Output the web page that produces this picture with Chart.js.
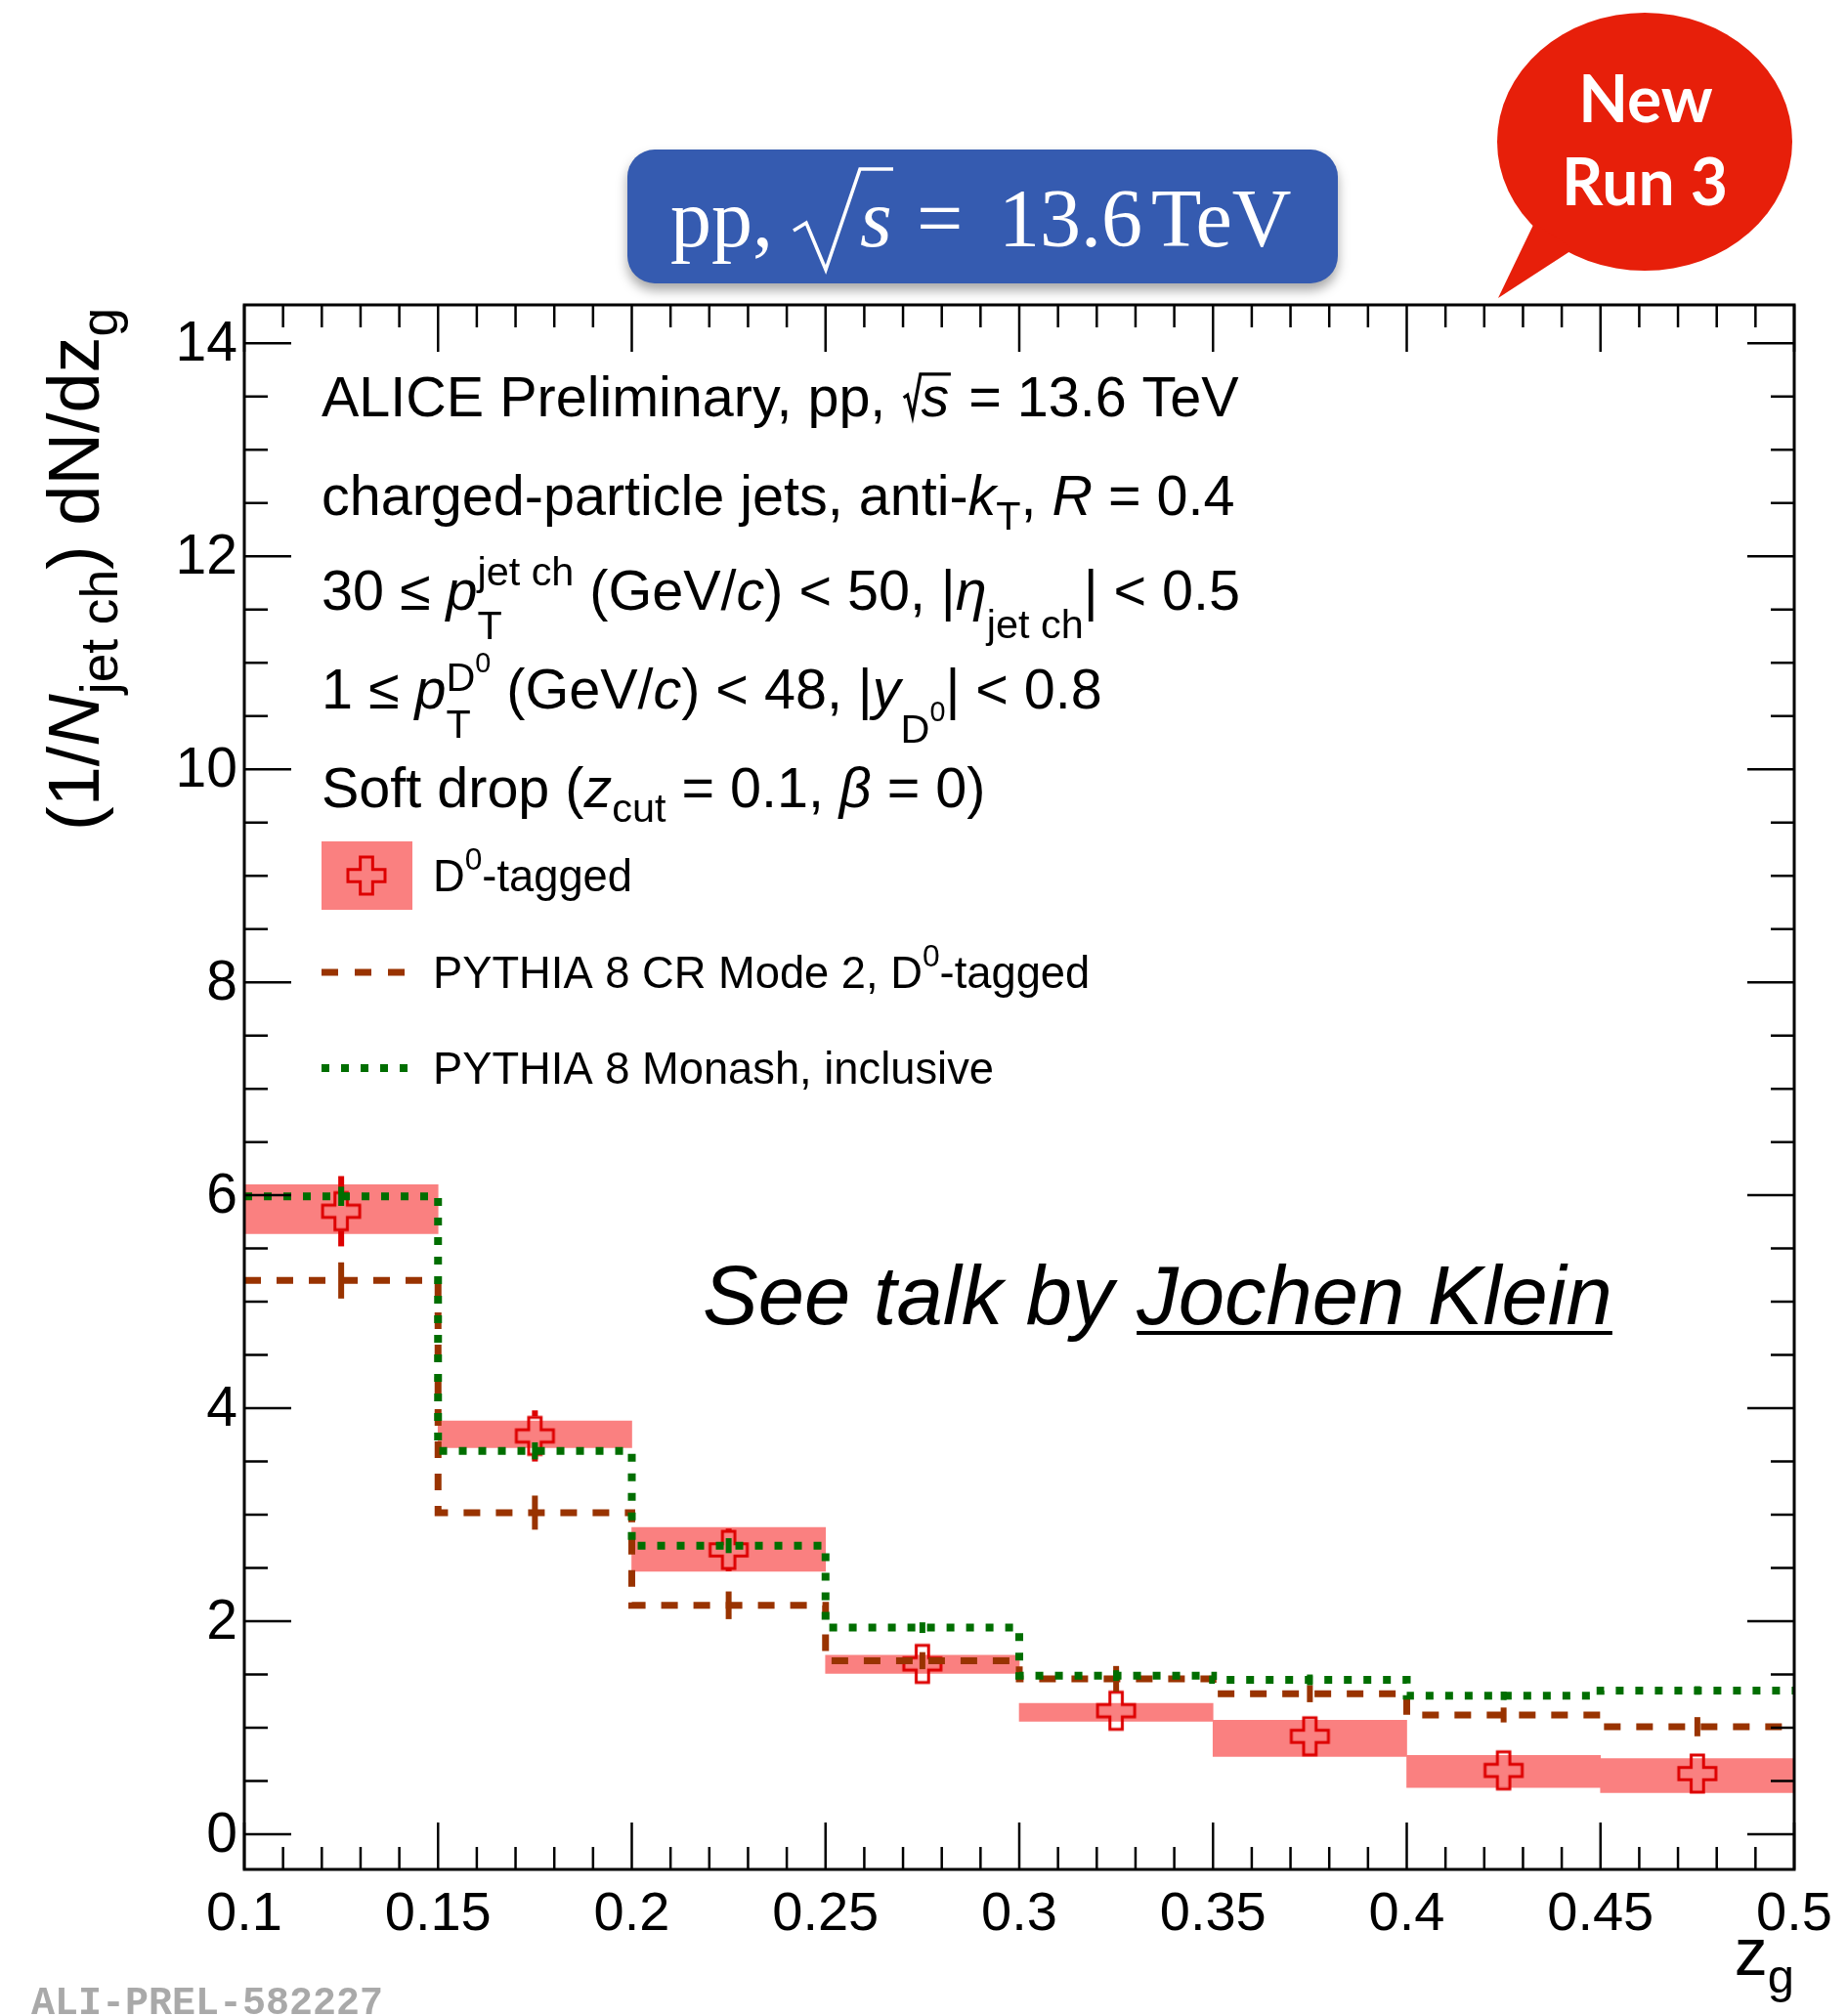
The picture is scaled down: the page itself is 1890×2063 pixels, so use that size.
<!DOCTYPE html>
<html>
<head>
<meta charset="utf-8">
<script src="https://cdn.jsdelivr.net/npm/chart.js@4.4.0/dist/chart.umd.min.js"></script>
<style>
  html, body { margin: 0; padding: 0; background: #fff; }
  #wrap { width: 1890px; height: 2063px; }
</style>
</head>
<body>
<div id="wrap"><canvas id="zgChart" width="1890" height="2063"></canvas></div>
<script>
// z_g bins and measured / simulated distributions
const binEdges = [0.1, 0.15, 0.2, 0.25, 0.3, 0.35, 0.4, 0.45, 0.5];
const d0Tagged = [5.85, 3.74, 2.67, 1.60, 1.16, 0.92, 0.60, 0.57];
const d0Stat = [0.33, 0.24, 0.20, 0.17, 0.10, 0.10, 0.12, 0.12];
const d0SysLow = [5.64, 3.63, 2.47, 1.51, 1.06, 0.73, 0.44, 0.39];
const d0SysHigh = [6.10, 3.88, 2.88, 1.68, 1.23, 1.07, 0.74, 0.71];
const crMode2 = [5.20, 3.02, 2.15, 1.63, 1.46, 1.32, 1.12, 1.01];
const crMode2Stat = [0.17, 0.16, 0.13, 0.08, 0.12, 0.08, 0.07, 0.09];
const monash = [5.99, 3.60, 2.71, 1.94, 1.49, 1.45, 1.30, 1.35];
const monashStat = [0.09, 0.08, 0.07, 0.05, 0.05, 0.05, 0.04, 0.04];

const xTickLabels = ['0.1', '0.15', '0.2', '0.25', '0.3', '0.35', '0.4', '0.45', '0.5'];
const yTickLabels = ['0', '2', '4', '6', '8', '10', '12', '14'];

const SANS = '"Liberation Sans", Arial, sans-serif';
const SERIF = '"Liberation Serif", "Times New Roman", serif';
const RED = '#dd0000';
const BAND = '#fa8080';
const BROWN = '#993300';
const GREEN = '#006e00';

const binCenters = binEdges.slice(0, -1).map((e, i) => (e + binEdges[i + 1]) / 2);
// step histograms: one point per lower edge plus the last edge
const stepPoints = vals => binEdges.map((e, i) => ({ x: e, y: vals[Math.min(i, vals.length - 1)] }));

// open cross marker
function makeCross(size, color) {
  const c = document.createElement('canvas');
  c.width = size + 6; c.height = size + 6;
  const g = c.getContext('2d');
  const m = c.width / 2, L = size / 2, a = size / 6;
  g.strokeStyle = color;
  g.lineWidth = 3;
  g.beginPath();
  g.moveTo(m - a, m - L); g.lineTo(m + a, m - L); g.lineTo(m + a, m - a);
  g.lineTo(m + L, m - a); g.lineTo(m + L, m + a); g.lineTo(m + a, m + a);
  g.lineTo(m + a, m + L); g.lineTo(m - a, m + L); g.lineTo(m - a, m + a);
  g.lineTo(m - L, m + a); g.lineTo(m - L, m - a); g.lineTo(m - a, m - a);
  g.closePath();
  g.stroke();
  return c;
}
const crossMarker = makeCross(38, RED);

// rich text: parts are {t, it, s, dy} or {stack: [parts, parts]} or {sqrt: 's'}
function richText(ctx, x, y, parts, size, family) {
  let cx = x;
  for (const p of parts) {
    if (typeof p === 'string') {
      ctx.font = size + 'px ' + family;
      ctx.fillText(p, cx, y);
      cx += ctx.measureText(p).width;
    } else if (p.stack) {
      let w = 0;
      for (const q of p.stack) w = Math.max(w, richText(ctx, cx, y, q, size, family) - cx);
      cx += w;
    } else if (p.sqrt) {
      const lw = ctx.lineWidth;
      ctx.font = 'italic ' + size + 'px ' + family;
      const sw = ctx.measureText(p.sqrt).width;
      ctx.lineWidth = size * 0.055;
      ctx.beginPath();
      ctx.moveTo(cx + size * 0.04, y - size * 0.33);
      ctx.lineTo(cx + size * 0.11, y - size * 0.38);
      ctx.lineTo(cx + size * 0.20, y);
      ctx.lineTo(cx + size * 0.34, y - size * 0.75);
      ctx.lineTo(cx + size * 0.38 + sw, y - size * 0.75);
      ctx.stroke();
      ctx.lineWidth = lw;
      ctx.fillText(p.sqrt, cx + size * 0.35, y);
      cx += size * 0.42 + sw;
    } else {
      const fs = size * (p.s || 1);
      ctx.font = (p.it ? 'italic ' : '') + fs + 'px ' + family;
      ctx.fillText(p.t, cx, y + (p.dy || 0) * size);
      cx += ctx.measureText(p.t).width;
    }
  }
  return cx;
}

const SUB = 0.72;
const headerLines = [
  ['ALICE Preliminary, pp, ', { sqrt: 's' }, ' = 13.6 TeV'],
  ['charged-particle jets, anti-', { t: 'k', it: true }, { t: 'T', s: SUB, dy: 0.26 }, ', ', { t: 'R', it: true }, ' = 0.4'],
  ['30 \u2264 ', { t: 'p', it: true },
    { stack: [[{ t: 'T', s: SUB, dy: 0.53 }], [{ t: 'jet ch', s: SUB, dy: -0.44 }]] },
    ' (GeV/', { t: 'c', it: true }, ') < 50, |', { t: '\u03b7', it: true },
    { t: 'jet ch', s: SUB, dy: 0.5 }, '| < 0.5'],
  ['1 \u2264 ', { t: 'p', it: true },
    { stack: [[{ t: 'T', s: SUB, dy: 0.53 }], [{ t: 'D', s: SUB, dy: -0.32 }, { t: '0', s: 0.5, dy: -0.65 }]] },
    ' (GeV/', { t: 'c', it: true }, ') < 48, |', { t: 'y', it: true },
    { t: 'D', s: SUB, dy: 0.6 }, { t: '0', s: 0.5, dy: 0.23 }, '| < 0.8'],
  ['Soft drop (', { t: 'z', it: true }, { t: 'cut', s: SUB, dy: 0.26 }, ' = 0.1, ', { t: '\u03b2', it: true }, ' = 0)']
];
const headerBaselines = [426, 527, 624, 725, 826];

const legendEntries = [
  { kind: 'box', y: 896, text: ['D', { t: '0', s: 0.7, dy: -0.48 }, '-tagged'] },
  { kind: 'dash', y: 995, text: ['PYTHIA 8 CR Mode 2, D', { t: '0', s: 0.7, dy: -0.48 }, '-tagged'] },
  { kind: 'dot', y: 1093, text: ['PYTHIA 8 Monash, inclusive'] }
];

function vLine(ctx, x, y1, y2) {
  ctx.beginPath(); ctx.moveTo(x, y1); ctx.lineTo(x, y2); ctx.stroke();
}

const decorations = {
  id: 'decorations',
  beforeDatasetDraw(chart, args) {
    const ds = chart.data.datasets[args.index];
    if (ds.id !== 'd0') return;
    const { ctx, scales: { x, y } } = chart;
    ctx.save();
    ctx.strokeStyle = RED;
    ctx.lineWidth = 6;
    binCenters.forEach((c, i) => {
      const px = x.getPixelForValue(c), py = y.getPixelForValue(d0Tagged[i]);
      const top = y.getPixelForValue(d0Tagged[i] + d0Stat[i]);
      const bot = y.getPixelForValue(d0Tagged[i] - d0Stat[i]);
      if (top < py - 20) vLine(ctx, px, top, py - 20);
      if (bot > py + 20) vLine(ctx, px, py + 20, bot);
    });
    ctx.restore();
  },
  afterDatasetDraw(chart, args) {
    const ds = chart.data.datasets[args.index];
    const errs = ds.id === 'cr' ? crMode2Stat : ds.id === 'monash' ? monashStat : null;
    if (!errs) return;
    const vals = ds.id === 'cr' ? crMode2 : monash;
    const { ctx, scales: { x, y } } = chart;
    ctx.save();
    ctx.strokeStyle = ds.borderColor;
    ctx.lineWidth = 6;
    binCenters.forEach((c, i) => {
      vLine(ctx, x.getPixelForValue(c), y.getPixelForValue(vals[i] + errs[i]), y.getPixelForValue(vals[i] - errs[i]));
    });
    ctx.restore();
  },
  afterDraw(chart) {
    const { ctx, chartArea: a, scales: { x, y } } = chart;
    ctx.save();
    // frame and ticks
    ctx.strokeStyle = '#000';
    ctx.lineWidth = 3;
    ctx.strokeRect(a.left, a.top, a.right - a.left, a.bottom - a.top);
    ctx.lineWidth = 2.5;
    for (let i = 0; i <= 40; i++) {
      const px = x.getPixelForValue(0.1 + i * 0.01);
      const len = i % 5 === 0 ? 48 : 23;
      vLine(ctx, px, a.bottom, a.bottom - len);
      vLine(ctx, px, a.top, a.top + len);
    }
    for (let i = 0; i <= 28; i++) {
      const py = y.getPixelForValue(i * 0.5);
      const len = i % 4 === 0 ? 48 : 24;
      ctx.beginPath();
      ctx.moveTo(a.left, py); ctx.lineTo(a.left + len, py);
      ctx.moveTo(a.right, py); ctx.lineTo(a.right - len, py);
      ctx.stroke();
    }
    // tick labels
    ctx.fillStyle = '#000';
    ctx.font = '57px ' + SANS;
    ctx.textAlign = 'right';
    ctx.textBaseline = 'middle';
    yTickLabels.forEach(l => ctx.fillText(l, a.left - 7, y.getPixelForValue(+l) + 2));
    ctx.textAlign = 'center';
    ctx.textBaseline = 'alphabetic';
    ctx.font = '56px ' + SANS;
    xTickLabels.forEach(l => ctx.fillText(l, x.getPixelForValue(+l), 1975));
    ctx.textAlign = 'left';

    // axis titles
    ctx.font = '68px ' + SANS;
    const zw = ctx.measureText('z').width;
    ctx.font = (68 * SUB) + 'px ' + SANS;
    const gw = ctx.measureText('g').width;
    richText(ctx, a.right - zw - gw, 2021, [{ t: 'z' }, { t: 'g', s: SUB, dy: 0.27 }], 68, SANS);
    ctx.save();
    ctx.translate(101, 850);
    ctx.rotate(-Math.PI / 2);
    richText(ctx, 0, 0, ['(1/', { t: 'N', it: true }, { t: 'jet ch', s: SUB, dy: 0.26 }, ') dN/dz', { t: 'g', s: SUB, dy: 0.26 }], 74, SANS);
    ctx.restore();

    // header text
    ctx.strokeStyle = '#000';
    headerLines.forEach((parts, i) => richText(ctx, 329, headerBaselines[i], parts, 57.5, SANS));

    // legend
    legendEntries.forEach(e => {
      if (e.kind === 'box') {
        ctx.fillStyle = BAND;
        ctx.fillRect(329, e.y - 35, 93, 70);
        ctx.drawImage(crossMarker, 375 - crossMarker.width / 2, e.y - crossMarker.height / 2);
      } else {
        ctx.strokeStyle = e.kind === 'dash' ? BROWN : GREEN;
        ctx.lineWidth = e.kind === 'dash' ? 7 : 8;
        ctx.setLineDash(e.kind === 'dash' ? [17, 17] : [8, 12]);
        ctx.beginPath(); ctx.moveTo(329, e.y); ctx.lineTo(422, e.y); ctx.stroke();
        ctx.setLineDash([]);
      }
      ctx.fillStyle = '#000';
      richText(ctx, 443, e.y + 16, e.text, 45.3, SANS);
    });

    // talk reference
    ctx.font = 'italic 85px ' + SANS;
    ctx.fillText('See talk by Jochen Klein', 719, 1355);
    const ux = 719 + ctx.measureText('See talk by ').width;
    const uw = ctx.measureText('Jochen Klein').width;
    ctx.fillRect(ux, 1362, uw, 4);

    // energy banner
    ctx.save();
    ctx.shadowColor = 'rgba(0,0,0,0.35)';
    ctx.shadowBlur = 12;
    ctx.shadowOffsetY = 7;
    ctx.fillStyle = '#355bb0';
    ctx.beginPath();
    ctx.roundRect(642, 153, 727, 137, 28);
    ctx.fill();
    ctx.restore();
    ctx.fillStyle = '#fff';
    ctx.strokeStyle = '#fff';
    ctx.font = '84px ' + SERIF;
    ctx.fillText('pp,', 686, 252);
    ctx.lineWidth = 3.5;
    ctx.beginPath();
    ctx.moveTo(812, 236); ctx.lineTo(825, 228); ctx.lineTo(845, 276);
    ctx.lineTo(880, 173); ctx.lineTo(914, 173);
    ctx.stroke();
    ctx.font = 'italic 84px ' + SERIF;
    ctx.fillText('s', 880, 252);
    ctx.font = '84px ' + SERIF;
    ctx.fillText('=', 938, 252);
    ctx.fillText('13.6', 1022, 252);
    ctx.fillText('TeV', 1178, 252);

    // speech bubble
    ctx.fillStyle = '#e71f0a';
    ctx.beginPath();
    ctx.ellipse(1683, 145, 151, 132, 0, 0, Math.PI * 2);
    ctx.fill();
    ctx.beginPath();
    ctx.moveTo(1570, 228); ctx.lineTo(1533, 305); ctx.lineTo(1610, 255);
    ctx.closePath();
    ctx.fill();
    ctx.fillStyle = '#fff';
    ctx.font = 'bold 66px Lato, ' + SANS;
    ctx.textAlign = 'center';
    ctx.fillText('New', 1684, 125);
    ctx.fillText('Run 3', 1683, 210);
    ctx.textAlign = 'left';

    // preliminary figure id
    ctx.fillStyle = '#a9a9a9';
    ctx.font = 'bold 40px "Liberation Mono", monospace';
    ctx.fillText('ALI-PREL-582227', 32, 2061);
    ctx.restore();
  }
};

new Chart(document.getElementById('zgChart'), {
  type: 'bar',
  data: {
    datasets: [
      {
        id: 'monash', type: 'line', label: 'PYTHIA 8 Monash, inclusive', order: 1,
        data: stepPoints(monash), stepped: true, borderColor: GREEN, borderWidth: 8,
        borderDash: [8, 12], borderCapStyle: 'butt', pointRadius: 0, fill: false
      },
      {
        id: 'cr', type: 'line', label: 'PYTHIA 8 CR Mode 2, D0-tagged', order: 2,
        data: stepPoints(crMode2), stepped: true, borderColor: BROWN, borderWidth: 7,
        borderDash: [17, 16], borderCapStyle: 'butt', pointRadius: 0, fill: false
      },
      {
        id: 'd0', type: 'scatter', label: 'D0-tagged', order: 3,
        data: binCenters.map((c, i) => ({ x: c, y: d0Tagged[i] })),
        pointStyle: crossMarker, pointRadius: 20, showLine: false
      },
      {
        id: 'sys', type: 'bar', label: 'D0-tagged syst.', order: 4,
        data: binCenters.map((c, i) => ({ x: c, y: [d0SysLow[i], d0SysHigh[i]] })),
        backgroundColor: BAND, borderWidth: 0, barPercentage: 1, categoryPercentage: 1, grouped: false
      }
    ]
  },
  options: {
    responsive: false,
    animation: false,
    devicePixelRatio: 1,
    layout: { padding: { left: 250, top: 312, right: 54, bottom: 150 } },
    plugins: { legend: { display: false }, tooltip: { enabled: false } },
    scales: {
      x: { type: 'linear', min: 0.1, max: 0.5, offset: false, display: false, ticks: { stepSize: 0.05 } },
      y: { type: 'linear', min: -0.33, max: 14.36, display: false }
    }
  },
  plugins: [decorations]
});
</script>
</body>
</html>
